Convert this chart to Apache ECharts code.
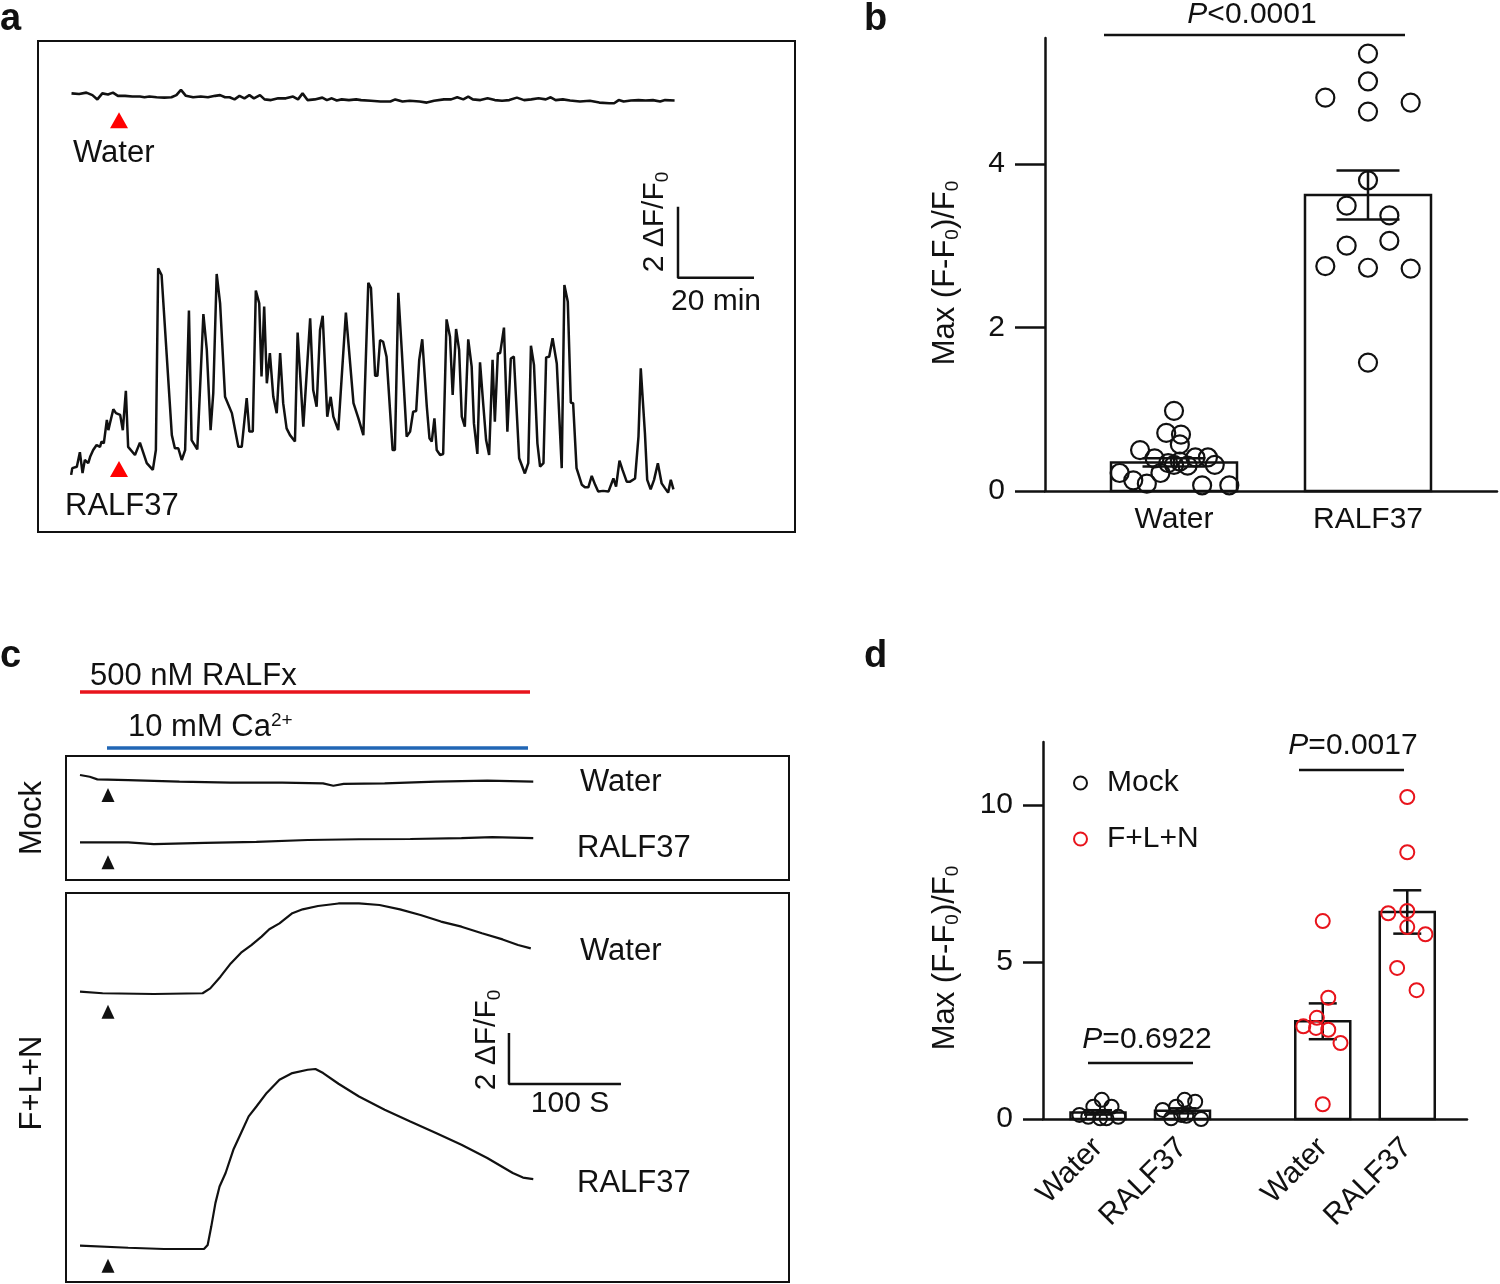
<!DOCTYPE html>
<html><head><meta charset="utf-8">
<script src="https://cdn.jsdelivr.net/npm/echarts@6/dist/echarts.min.js"></script>
<style>html,body{margin:0;padding:0;background:#fff}#chart{width:1500px;height:1284px}</style>
</head><body><div id="chart"></div>
<script>
// ================= DATA =================
// Panel a: Ca2+ traces, [time (min), ΔF/F0]
const aWaterTrace = [[0.4,0.28],[2.4,0.26],[4.3,0.30],[5.9,0.23],[7.2,0.11],[8.5,0.28],[10.0,0.25],[11.3,0.30],[12.6,0.21],[14.5,0.21],[16.4,0.19],[18.4,0.19],[19.6,0.17],[20.9,0.19],[22.8,0.17],[24.8,0.16],[26.7,0.17],[28.0,0.23],[29.2,0.38],[30.5,0.21],[32.4,0.17],[34.4,0.19],[36.3,0.17],[38.2,0.21],[39.5,0.23],[40.8,0.17],[42.0,0.17],[43.3,0.11],[44.6,0.21],[45.9,0.14],[47.2,0.23],[48.4,0.14],[50.0,0.23],[51.2,0.11],[52.9,0.09],[54.8,0.14],[56.8,0.14],[58.7,0.19],[60.0,0.11],[61.2,0.28],[62.5,0.09],[64.4,0.11],[66.4,0.16],[67.6,0.09],[68.9,0.14],[70.2,0.08],[71.5,0.11],[73.4,0.09],[75.3,0.11],[76.6,0.09],[79.2,0.07],[81.7,0.05],[84.3,0.05],[85.6,0.11],[87.5,0.05],[89.4,0.07],[92.0,0.05],[93.9,0.02],[95.8,0.07],[98.4,0.11],[100.3,0.11],[101.9,0.17],[103.5,0.11],[104.8,0.19],[106.0,0.11],[108.0,0.09],[109.9,0.14],[111.8,0.09],[113.7,0.07],[115.6,0.09],[117.6,0.16],[119.5,0.09],[121.4,0.11],[123.3,0.14],[125.2,0.11],[126.5,0.17],[127.8,0.09],[129.7,0.11],[131.6,0.08],[134.2,0.05],[136.8,0.07],[139.3,0.02],[141.9,0.00],[143.2,0.00],[144.4,0.09],[145.7,0.05],[147.6,0.08],[149.6,0.09],[151.5,0.08],[153.4,0.09],[155.3,0.05],[156.6,0.09],[159.1,0.08]];
const aRalf37Trace = [[0.3,0.51],[0.6,0.70],[1.8,0.74],[2.6,1.15],[3.3,0.56],[3.9,0.93],[4.8,0.84],[5.3,1.02],[6.1,1.21],[7.0,1.35],[7.9,1.30],[8.3,1.45],[8.9,1.40],[9.7,2.06],[10.1,1.77],[10.5,1.96],[11.4,2.36],[12.1,2.25],[13.2,2.20],[13.9,1.77],[14.7,2.88],[15.3,1.30],[17.1,1.07],[18.4,1.42],[20.2,0.84],[21.8,0.65],[22.6,1.21],[23.2,6.33],[24.1,6.14],[26.8,1.63],[27.6,1.26],[28.5,1.26],[29.4,0.93],[30.3,1.21],[31.3,5.14],[32.0,1.49],[33.5,1.23],[35.1,5.04],[36.0,4.03],[37.0,1.77],[37.7,2.81],[38.6,6.17],[39.5,5.34],[40.8,2.71],[42.6,2.25],[44.3,1.30],[45.2,1.30],[46.5,2.67],[47.2,1.73],[48.1,1.73],[48.9,5.70],[49.8,5.34],[50.4,3.28],[51.1,5.25],[51.8,3.09],[52.6,3.94],[53.5,2.71],[54.4,2.25],[55.3,3.94],[56.1,2.53],[57.0,1.82],[57.9,1.63],[59.2,1.45],[59.9,4.52],[61.4,1.87],[63.2,4.92],[64.0,2.90],[64.9,2.43],[65.8,4.59],[66.5,4.99],[67.7,2.15],[68.6,2.71],[69.3,2.15],[70.6,1.77],[72.6,5.08],[74.6,2.53],[75.9,2.10],[77.2,1.63],[78.5,5.92],[79.2,5.77],[80.3,3.30],[80.9,3.30],[81.6,4.31],[82.4,4.26],[83.3,3.84],[84.9,1.21],[85.5,1.21],[86.4,5.64],[87.3,4.03],[88.6,1.59],[89.5,1.73],[90.3,2.29],[91.1,2.31],[91.9,3.75],[92.7,4.33],[93.9,2.43],[94.6,1.54],[95.2,1.45],[95.9,2.10],[96.5,1.21],[97.4,1.07],[98.2,1.10],[99.1,4.89],[100.0,4.40],[100.7,2.76],[101.6,4.62],[102.4,4.03],[103.1,2.15],[103.9,1.87],[104.8,4.33],[105.7,3.56],[106.3,1.96],[107.2,1.10],[107.9,3.68],[108.8,2.43],[109.5,1.49],[110.3,1.07],[111.2,3.75],[111.8,2.01],[112.6,3.94],[113.2,3.94],[114.2,4.66],[115.1,1.73],[116.0,3.79],[116.8,3.84],[118.2,0.98],[119.7,0.55],[120.6,0.84],[121.3,4.15],[122.1,3.61],[123.0,1.40],[123.7,0.74],[124.6,0.84],[125.3,3.82],[126.1,3.84],[127.0,4.36],[128.1,3.65],[129.4,0.70],[130.1,5.86],[131.0,5.39],[131.8,2.54],[132.4,2.53],[133.3,0.70],[134.7,0.23],[135.5,0.16],[136.4,0.16],[137.3,0.48],[138.2,0.23],[139.0,0.04],[140.3,0.06],[141.7,0.04],[143.0,0.41],[143.7,0.18],[144.6,0.91],[145.4,0.65],[146.5,0.32],[147.4,0.32],[148.7,0.41],[149.6,1.59],[150.2,3.51],[151.3,1.68],[151.9,0.37],[152.8,0.10],[153.7,0.37],[154.7,0.84],[155.7,0.27],[156.6,0.13],[157.4,0.01],[158.1,0.37],[158.8,0.10]];
const aAdditionTime = 12.9;          // min
const aScaleBar = {t: 160, v: 6.06, dt: 20, dv: 2};

// Panel b: Max (F-F0)/F0
const bCategories = ['Water', 'RALF37'];
const bMeans = [0.35, 3.62];
const bSEM = [0.05, 0.30];
const bWaterValues = [0.98,0.71,0.69,0.57,0.50,0.40,0.34,0.36,0.41,0.41,0.22,0.32,0.31,0.32,0.22,0.13,0.09,0.07,0.07];
const bWaterJitter = [0,-0.04,0.036,0.03,-0.175,-0.10,-0.03,0.03,0.11,0.175,-0.07,0,0.07,0.21,-0.28,-0.21,-0.14,0.145,0.285];
const bRalfValues = [5.35,5.01,4.81,4.75,4.64,3.80,3.49,3.37,3.00,3.06,2.75,2.73,2.72,1.57];
const bRalfJitter = [0,0,-0.22,0.22,0,0,-0.11,0.11,-0.11,0.11,-0.22,0,0.22,0];
const bTicks = [0, 2, 4];
const bPText = '<0.0001';

// Panel c: traces, [time (s), ΔF/F0]
const cMockWater = [[0,0],[8.7,-0.07],[15.5,-0.17],[43,-0.20],[88.8,-0.26],[134.6,-0.30],[180.4,-0.30],[217,-0.33],[226.2,-0.42],[235.4,-0.35],[272,-0.33],[317.8,-0.26],[363.6,-0.22],[404.7,-0.26]];
const cMockRalf = [[0,0],[43,0],[65.9,-0.07],[111.6,-0.02],[157.5,0.02],[203.3,0.09],[249.1,0.12],[294.9,0.13],[340.6,0.16],[368.1,0.20],[404.7,0.16]];
const cFlnWater = [[0,0],[20.2,-0.06],[65.9,-0.09],[109.5,-0.06],[116.3,0.13],[125.4,0.59],[134.6,1.11],[143.8,1.53],[153,1.83],[162.1,2.16],[169,2.45],[178.1,2.68],[189.6,3.08],[198.8,3.23],[212.5,3.36],[230.8,3.46],[249.1,3.46],[267.4,3.40],[285.7,3.23],[304,3.01],[322.3,2.75],[340.6,2.55],[358.9,2.29],[377.3,2.05],[391.1,1.83],[402.5,1.70]];
const cFlnRalf = [[0,0],[43,-0.08],[75,-0.13],[110.7,-0.13],[114,0.03],[117.2,0.75],[120.9,1.67],[124.6,2.32],[130,2.85],[136.9,3.76],[143.8,4.42],[150.6,5.07],[157.5,5.46],[166.7,5.99],[178.1,6.51],[189.6,6.77],[203.3,6.90],[210.2,6.93],[217.1,6.77],[230.8,6.35],[249.1,5.85],[272,5.33],[294.9,4.87],[317.8,4.42],[340.6,3.96],[363.6,3.44],[386.4,2.85],[395.5,2.67],[404.7,2.61]];
const cAdditionTime = 25;            // s
const cScaleBar = {t: 383, v: 6.34, dt: 100, dv: 2};
const cTraceNames = ['Water', 'RALF37', 'Water', 'RALF37'];

// Panel d: Max (F-F0)/F0
const dCategories = ['Water', 'RALF37', 'Water', 'RALF37'];
const dPositions = [1, 2, 3.66, 4.66];
const dMeans = [0.21, 0.26, 3.11, 6.59];
const dSEM = [0.07, 0.08, 0.57, 0.69];
const dMockWater = [0.13,0.39,0.61,0.39,0.07,0.02,0.07,0.02];
const dMockWaterJitter = [-0.22,-0.055,0.045,0.16,-0.115,0.025,0.24,0.10];
const dMockRalf = [0.29,0.39,0.61,0.55,0.02,0.10,0,0.13];
const dMockRalfJitter = [-0.235,-0.075,0.025,0.15,-0.135,0.045,0.22,-0.015];
const dFlnWater = [6.30,3.86,3.22,2.95,2.90,2.84,2.42,0.47];
const dFlnWaterJitter = [0,0.065,-0.07,-0.23,-0.08,0.065,0.21,0];
const dFlnRalf = [10.25,8.49,6.55,6.62,6.11,5.88,4.81,4.10];
const dFlnRalfJitter = [0,0,-0.225,0,0,0.215,-0.12,0.11];
const dTicks = [0, 5, 10];
const dPTexts = ['=0.6922', '=0.0017'];

// ================= STYLE / LAYOUT =================
const FONT = '"Liberation Sans", Arial, Helvetica, sans-serif';
const INK = '#111';
const RED = '#e8141c';
const BLUE = '#2166b5';

const grids = [], xAxes = [], yAxes = [], series = [];
// rect [left, top, width, height], pixel of x=0, px per x unit, pixel of y=0, px per y unit
function addFrame(rect, x0, xs, y0, ys, border) {
  const gi = grids.length;
  grids.push({left: rect[0], top: rect[1], width: rect[2], height: rect[3], show: !!border,
    borderColor: INK, borderWidth: 2, backgroundColor: 'transparent'});
  xAxes.push({type: 'value', gridIndex: gi, show: false, min: (rect[0] - x0) / xs, max: (rect[0] + rect[2] - x0) / xs});
  yAxes.push({type: 'value', gridIndex: gi, show: false, min: (y0 - rect[1] - rect[3]) / ys, max: (y0 - rect[1]) / ys});
  return gi;
}
function trace(gi, data, width) {
  series.push({type: 'line', xAxisIndex: gi, yAxisIndex: gi, data: data, showSymbol: false, symbol: 'none',
    lineStyle: {color: INK, width: width || 2.2}, silent: true, z: 3});
}
function marker(gi, t, dy, color, size) {
  series.push({type: 'scatter', xAxisIndex: gi, yAxisIndex: gi, data: [[t, 0]], symbol: 'triangle',
    symbolSize: size, symbolOffset: [0, dy], itemStyle: {color: color, opacity: 1}, silent: true, z: 4});
}
function scaleBar(gi, sb) {
  series.push({type: 'line', xAxisIndex: gi, yAxisIndex: gi, showSymbol: false, symbol: 'none', silent: true,
    data: [[sb.t, sb.v + sb.dv], [sb.t, sb.v], [sb.t + sb.dt, sb.v]], lineStyle: {color: INK, width: 2.5}, z: 3});
}

// ---- panel a
const aBox = [38, 41, 757, 491];
const gaR = addFrame(aBox, 70, 3.8, 493, 35.5, true);
const gaW = addFrame(aBox, 70, 3.8, 103.3, 35.5, false);
trace(gaW, aWaterTrace, 2.6);
trace(gaR, aRalf37Trace, 2.5);
marker(gaW, aAdditionTime, 17, '#ff0000', [18, 16]);
marker(gaR, aAdditionTime, -24, '#ff0000', [18, 16]);
scaleBar(gaR, aScaleBar);

// ---- panel c
const cMockBox = [66, 756, 723, 124];
const cFlnBox = [66, 893, 723, 389];
const gcMW = addFrame(cMockBox, 80, 1.12, 775, 25.5, true);
const gcMR = addFrame(cMockBox, 80, 1.12, 842.3, 25.5, false);
const gcFW = addFrame(cFlnBox, 80, 1.12, 991.7, 25.5, true);
const gcFR = addFrame(cFlnBox, 80, 1.12, 1245.7, 25.5, false);
[[gcMW, cMockWater], [gcMR, cMockRalf], [gcFW, cFlnWater], [gcFR, cFlnRalf]].forEach(function (p) {
  trace(p[0], p[1], 2.2);
  marker(p[0], cAdditionTime, 20, INK, [13, 14]);
});
scaleBar(gcFR, cScaleBar);

// ---- bar panels helper
function barSeries(gi, data, bw, cw) {
  series.push({type: 'custom', xAxisIndex: gi, yAxisIndex: gi, data: data, silent: true, z: 2,
    encode: {x: 0, y: 1},
    renderItem: function (params, api) {
      const x = api.value(0), m = api.value(1), s = api.value(2);
      const top = api.coord([x, m]), base = api.coord([x, 0]);
      const hi = api.coord([x, m + s]), lo = api.coord([x, m - s]);
      const st = {stroke: INK, lineWidth: 2.5, fill: null};
      return {type: 'group', children: [
        {type: 'rect', shape: {x: top[0] - bw / 2, y: top[1], width: bw, height: base[1] - top[1]}, style: {stroke: INK, lineWidth: 2.5, fill: 'rgba(0,0,0,0)'}},
        {type: 'line', shape: {x1: hi[0], y1: hi[1], x2: lo[0], y2: lo[1]}, style: st},
        {type: 'line', shape: {x1: hi[0] - cw / 2, y1: hi[1], x2: hi[0] + cw / 2, y2: hi[1]}, style: st},
        {type: 'line', shape: {x1: lo[0] - cw / 2, y1: lo[1], x2: lo[0] + cw / 2, y2: lo[1]}, style: st}
      ]};
    }});
}
function points(gi, name, pos, vals, jit, color, size, bw) {
  series.push({type: 'scatter', name: name, xAxisIndex: gi, yAxisIndex: gi, symbol: 'circle', symbolSize: size,
    data: vals.map(function (v, i) { return [pos + jit[i], v]; }),
    itemStyle: {color: 'rgba(0,0,0,0)', borderColor: color, borderWidth: bw, opacity: 1}, silent: true, z: 5});
}
const axisLineStyle = {color: INK, width: 2.5};
function valueAxes(gi, xmin, xmax, labelPos, labelNames, rotate, xMargin, ymax, ticks, tickLen, yMargin) {
  xAxes.push({type: 'value', gridIndex: gi, min: xmin, max: xmax,
    axisLine: {show: true, onZero: false, lineStyle: axisLineStyle}, axisTick: {show: false}, splitLine: {show: false},
    axisLabel: {customValues: labelPos, rotate: rotate, margin: xMargin, fontSize: 30, fontFamily: FONT, color: INK,
      formatter: function (v) { let k = 0; labelPos.forEach(function (p, i) { if (Math.abs(p - v) < Math.abs(labelPos[k] - v)) k = i; }); return labelNames[k]; }}});
  yAxes.push({type: 'value', gridIndex: gi, min: 0, max: ymax,
    axisLine: {show: true, onZero: false, lineStyle: axisLineStyle},
    axisTick: {show: true, length: tickLen, customValues: ticks, lineStyle: axisLineStyle}, splitLine: {show: false},
    axisLabel: {customValues: ticks, margin: yMargin, fontSize: 30, fontFamily: FONT, color: INK}});
}

// ---- panel b
const gb = grids.length;
grids.push({left: 1045, top: 38, width: 452, height: 453, show: false});
valueAxes(gb, 0.335, 2.665, [1, 2], bCategories, 0, 14, 5.54, bTicks, 30, 40);
barSeries(gb, bCategories.map(function (c, i) { return [i + 1, bMeans[i], bSEM[i]]; }), 126, 63);
points(gb, 'b-Water', 1, bWaterValues, bWaterJitter, INK, 18, 2.2);
points(gb, 'b-RALF37', 2, bRalfValues, bRalfJitter, INK, 18, 2.2);

// ---- panel d
const gd = grids.length;
grids.push({left: 1043, top: 742, width: 424, height: 377, show: false});
valueAxes(gd, 0.349, 5.367, dPositions, dCategories, 45, 24, 12, dTicks, 20, 30);
barSeries(gd, dCategories.map(function (c, i) { return [dPositions[i], dMeans[i], dSEM[i]]; }), 55, 28);
points(gd, 'Mock', dPositions[0], dMockWater, dMockWaterJitter, INK, 14, 2);
points(gd, 'Mock', dPositions[1], dMockRalf, dMockRalfJitter, INK, 14, 2);
points(gd, 'F+L+N', dPositions[2], dFlnWater, dFlnWaterJitter, RED, 14, 2);
points(gd, 'F+L+N', dPositions[3], dFlnRalf, dFlnRalfJitter, RED, 14, 2);

// ================= TEXT / ANNOTATIONS =================
const SUB = {fontSize: 19, fontFamily: FONT, fill: INK, padding: [15, 0, 0, 0], verticalAlign: 'top'};
const SUP = {fontSize: 19, fontFamily: FONT, fill: INK, padding: [0, 0, 12, 0], verticalAlign: 'top'};
const ITAL = {fontSize: 30, fontFamily: FONT, fill: INK, fontStyle: 'italic'};
function txt(x, y, text, o) {
  o = o || {};
  return {type: 'text', x: x, y: y, rotation: o.rot || 0, silent: true, z: 10,
    style: {text: text, fontSize: o.size || 30, fontFamily: FONT, fontWeight: o.weight || 'normal', fill: o.fill || INK,
      align: o.align || 'left', verticalAlign: 'middle', rich: {s: SUB, u: SUP, i: ITAL}}};
}
function seg(x1, y1, x2, y2, color, w) {
  return {type: 'line', silent: true, z: 10, shape: {x1: x1, y1: y1, x2: x2, y2: y2}, style: {stroke: color || INK, lineWidth: w || 2.5}};
}
const R90 = Math.PI / 2;
const graphics = [
  // panel letters
  txt(0, 20, 'a', {size: 38, weight: 'bold'}),
  txt(864, 20, 'b', {size: 38, weight: 'bold'}),
  txt(0, 657, 'c', {size: 38, weight: 'bold'}),
  txt(864, 657, 'd', {size: 38, weight: 'bold'}),
  // panel a
  txt(73, 153, 'Water', {size: 31}),
  txt(65, 506, 'RALF37', {size: 31}),
  txt(655, 222, '2 ΔF/F{s|0}', {rot: R90, align: 'center'}),
  txt(716, 302, '20 min', {align: 'center'}),
  // panel b
  txt(945, 273, 'Max (F-F{s|0})/F{s|0}', {rot: R90, align: 'center', size: 31}),
  txt(1252, 15, '{i|P}' + bPText, {align: 'center'}),
  seg(1104, 35, 1405, 35),
  // panel c
  txt(90, 676, '500 nM RALFx', {size: 31}),
  seg(80, 692, 530, 692, RED, 3.5),
  txt(128, 727, '10 mM Ca{u|2+}', {size: 31}),
  seg(107, 748, 528, 748, BLUE, 3.5),
  txt(580, 782, cTraceNames[0], {size: 31}),
  txt(577, 848, cTraceNames[1], {size: 31}),
  txt(580, 951, cTraceNames[2], {size: 31}),
  txt(577, 1183, cTraceNames[3], {size: 31}),
  txt(32, 818, 'Mock', {rot: R90, align: 'center', size: 31}),
  txt(32, 1083, 'F+L+N', {rot: R90, align: 'center', size: 31}),
  txt(487, 1040, '2 ΔF/F{s|0}', {rot: R90, align: 'center'}),
  txt(570, 1104, '100 S', {align: 'center'}),
  // panel d
  txt(945, 958, 'Max (F-F{s|0})/F{s|0}', {rot: R90, align: 'center', size: 31}),
  txt(1147, 1040, '{i|P}' + dPTexts[0], {align: 'center'}),
  seg(1088, 1063, 1193, 1063),
  txt(1353, 746, '{i|P}' + dPTexts[1], {align: 'center'}),
  seg(1299, 770, 1404, 770)
];

const chart = echarts.init(document.getElementById('chart'), null, {renderer: 'canvas'});
chart.setOption({
  animation: false,
  backgroundColor: '#fff',
  textStyle: {fontFamily: FONT},
  grid: grids, xAxis: xAxes, yAxis: yAxes, series: series,
  legend: {
    left: 1068, top: 763, orient: 'vertical', itemWidth: 13, itemHeight: 13, itemGap: 26, selectedMode: false,
    textStyle: {fontSize: 30, fontFamily: FONT, color: INK, padding: [0, 0, 0, 15]},
    data: [
      {name: 'Mock', icon: 'circle', itemStyle: {color: 'rgba(0,0,0,0)', borderColor: INK, borderWidth: 2}},
      {name: 'F+L+N', icon: 'circle', itemStyle: {color: 'rgba(0,0,0,0)', borderColor: RED, borderWidth: 2}}
    ]
  },
  graphic: graphics
});
</script>
</body></html>
